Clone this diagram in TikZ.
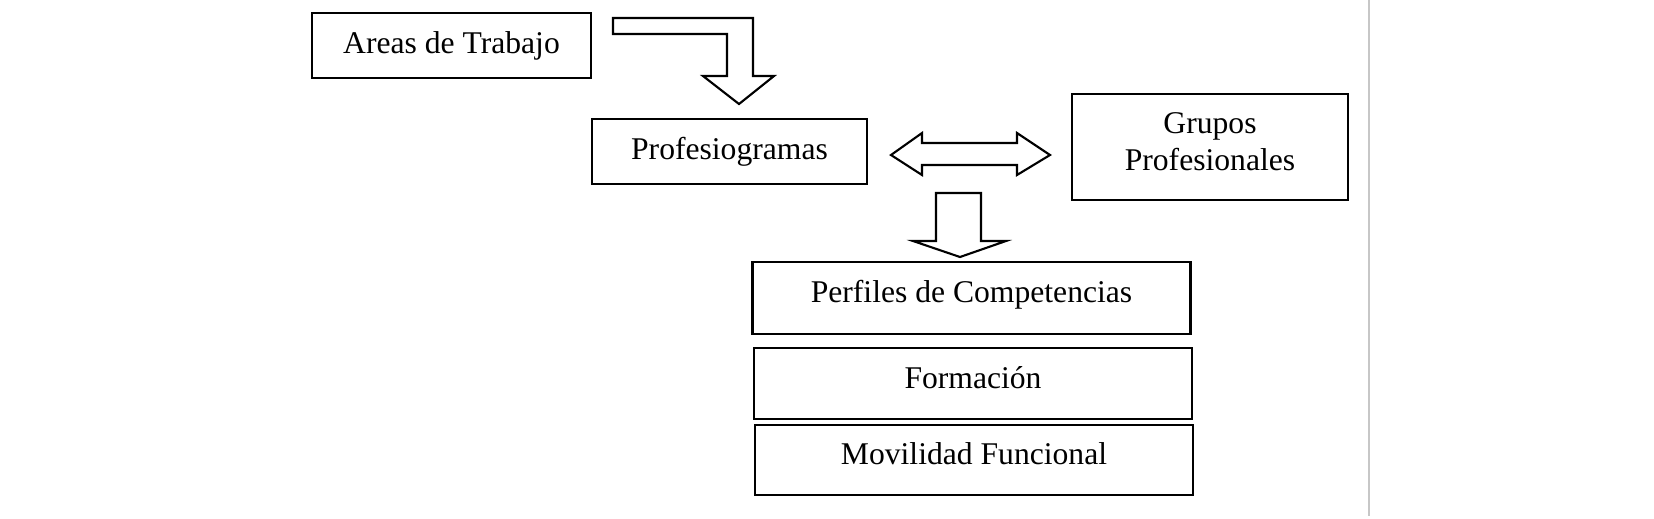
\documentclass[tikz,border=0pt]{standalone}
\usepackage{fontspec}
\setmainfont{Liberation Serif}
\usetikzlibrary{calc}
\tikzset{caja/.style={draw=black, line width=1.5pt, inner sep=0pt, outer sep=0pt, align=center, font=\fontsize{18}{22}\selectfont}}
\tikzset{pila/.style={caja, minimum width=8.76cm, minimum height=1.42cm, text height=0.75em, text depth=0.2em}}
\tikzset{bloque/.style={draw=black, line width=1.2pt, line join=miter, fill=white}}

\begin{document}
\begin{tikzpicture}[x=0.02cm, y=-0.02cm]
\useasboundingbox (0,0) rectangle (1654,518);
\draw[black!22, line width=0.6pt] (1369,0)--(1369,516);
\node (areas) at (451.5,45.5) [caja, minimum width=5.58cm, minimum height=1.3cm] {Areas de Trabajo};
\node (prof) at (729.5,151.5) [caja, minimum width=5.5cm, minimum height=1.3cm] {Profesiogramas};
\node (grupos) at (1210,147) [caja, minimum width=5.52cm, minimum height=2.12cm, text depth=0.6em] {Grupos\\[-1pt]Profesionales};
\node (perfiles) at (971.5,298) [pila, minimum height=1.44cm] {Perfiles de Competencias};
\node (formacion) at (973,383.5) [pila] {Formación};
\node (movilidad) at (974,460) [pila, minimum height=1.4cm] {Movilidad Funcional};
% flechas de bloque
\draw[bloque] (613,18)--(753,18)--(753,76)--(774,76)--(739,104)--(703,76)--(727,76)--(727,34)--(613,34)--cycle;
\draw[bloque] (891,155)--(922,133)--(922,143)--(1017,143)--(1017,133)--(1050,155)--(1017,175)--(1017,165)--(922,165)--(922,175)--cycle;
\draw[bloque] (936,193)--(981,193)--(981,241)--(1006,241)--(960,257)--(913,241)--(936,241)--cycle;
\end{tikzpicture}
\end{document}
